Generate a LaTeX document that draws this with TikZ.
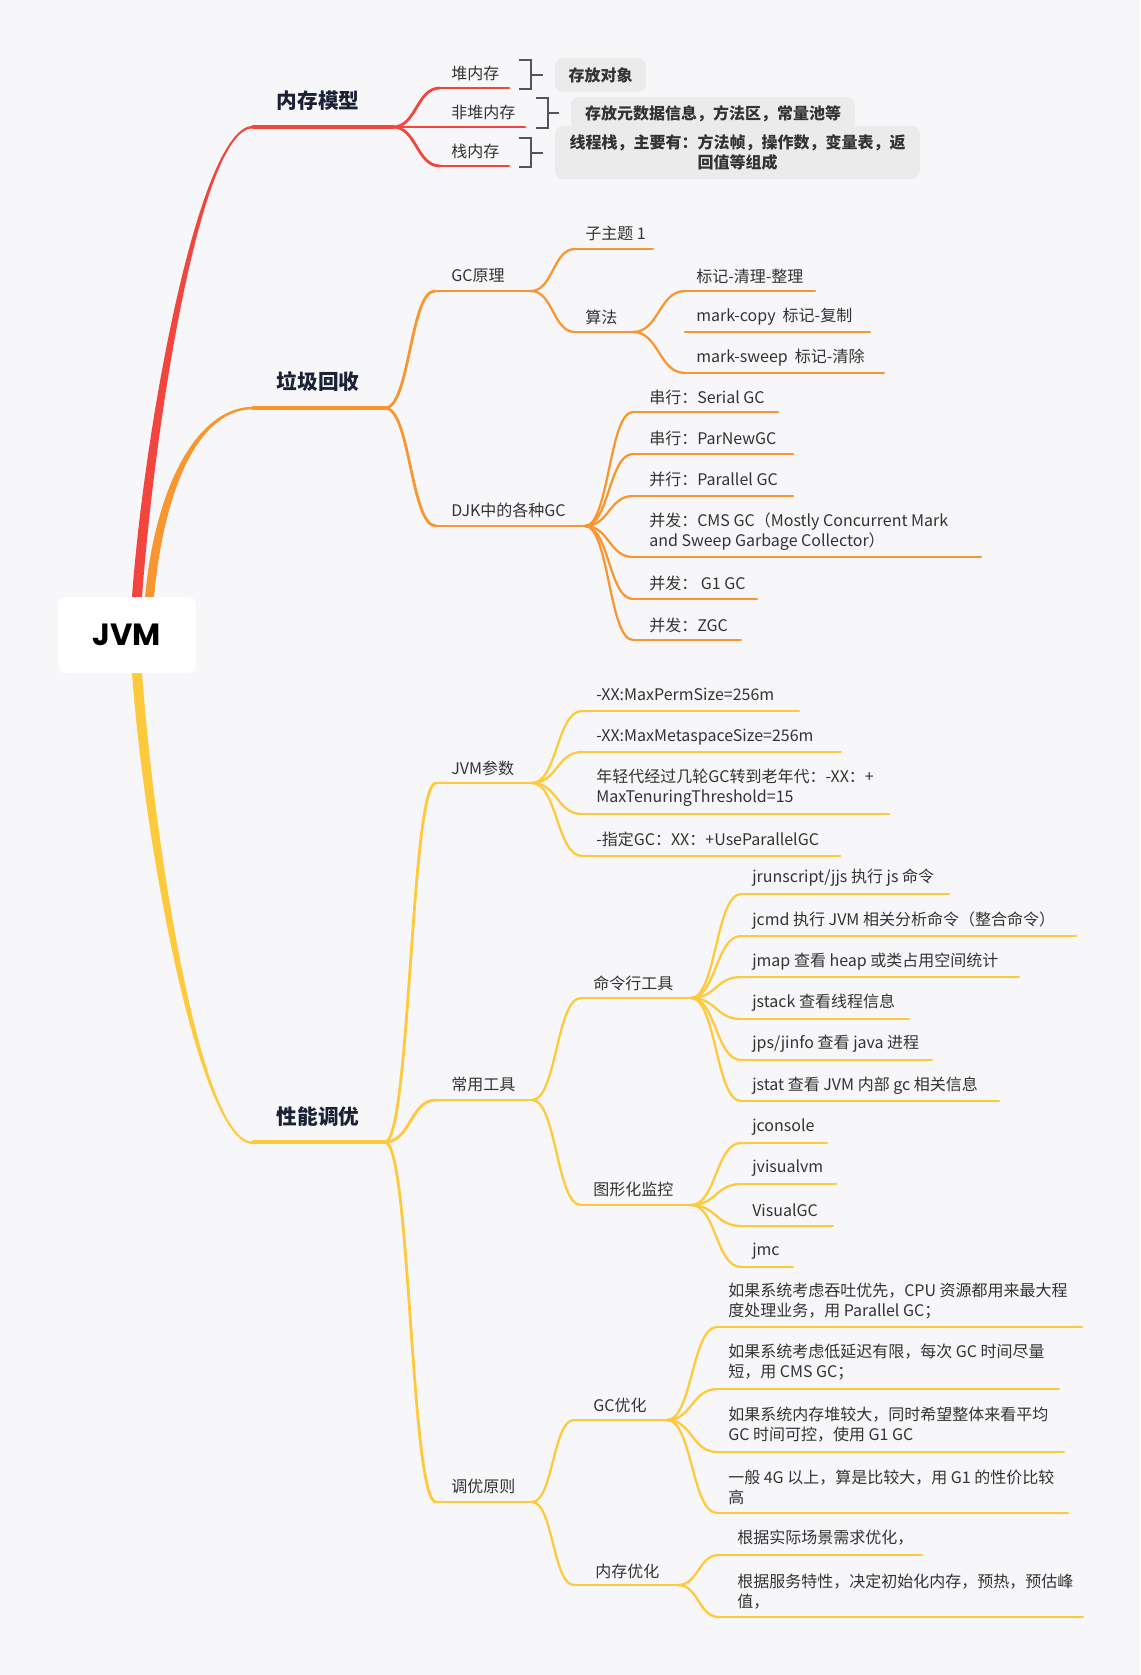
\documentclass[tikz,border=0pt]{standalone}
\usepackage{fontspec}
\setmainfont{Noto Sans CJK SC}
\newfontfamily\jvmfont{Poppins}
\usetikzlibrary{calc}

\definecolor{memred}{HTML}{F2453D}
\definecolor{gcorange}{HTML}{F8962F}
\definecolor{tuneyellow}{HTML}{FEC93A}
\definecolor{paper}{HTML}{F7F7F9}
\definecolor{notegray}{HTML}{EBEBEB}
\definecolor{ink}{HTML}{333333}
\definecolor{headink}{HTML}{1B2236}
\definecolor{brk}{HTML}{555555}

% one underlined topic: name, x start, x end, y, line style
\newcommand\twig[5]{%
  \coordinate (#1-s) at (#2,#4);
  \coordinate (#1-e) at (#3,#4);
  \draw[#5] (#1-s) -- (#1-e);}

\tikzset{
  link/.style={to path={let \p1=(\tikztostart), \p2=(\tikztotarget) in
    .. controls (0.5*\x1+0.5*\x2,\y1) and (0.5*\x1+0.5*\x2,\y2) .. (\tikztotarget)}},
  lab/.style={anchor=west, inner sep=0, text=ink, align=left,
    font=\fontsize{12}{15}\selectfont},
  head/.style={inner sep=0, text=headink, font=\fontsize{15.5}{19}\selectfont\bfseries},
  note/.style={fill=notegray, rounded corners=6pt, inner sep=0, text=ink,
    align=center, font=\fontsize{12}{14.5}\selectfont\bfseries},
  brace/.style={draw=brk, line width=1.5pt},
  top/.style={line width=2.4pt, line cap=round},
  mid/.style={line width=2.1pt, line cap=round},
  leaf/.style={line width=1.7pt, line cap=round}
}

\begin{document}
\begin{tikzpicture}[x=0.75pt,y=-0.75pt]
\useasboundingbox (0,0) rectangle (1140,1675);
\fill[paper] (0,0) rectangle (1140,1675);

% main branches from the root
\fill[memred] (132,597) .. controls (145,420) and (200,125.8) .. (253,125.8)
  -- (253,128.2) .. controls (201,128.2) and (155,420) .. (142,597) -- cycle;
\fill[gcorange] (145,597) .. controls (156,480) and (200,406.8) .. (253,406.8)
  -- (253,409.2) .. controls (202,409.2) and (165,480) .. (154,597) -- cycle;
\fill[tuneyellow] (132,673) .. controls (145,850) and (200,1144.2) .. (253,1144.2)
  -- (253,1141.8) .. controls (201,1141.8) and (155,850) .. (142,673) -- cycle;

\node[fill=white, rounded corners=6pt, minimum width=103.5pt, minimum height=57pt,
  font=\jvmfont\fontsize{23}{28}\selectfont\bfseries] (jvm) at (127,635) {JVM};

% 内存模型
\twig{mem}{253}{393}{127}{top,memred}
\node[head] (memlab) at (318,101) {内存模型};
\twig{heap}{440}{509}{88}{mid,memred}
\twig{nonheap}{393}{525}{127}{mid,memred}
\twig{stack}{440}{509}{166}{mid,memred}
\draw[mid,memred] (mem-e) to[link] (heap-s);
\draw[mid,memred] (mem-e) to[link] (stack-s);
\node[lab] (heaplab) at (451,73) {堆内存};
\node[lab] (nonheaplab) at (451,112) {非堆内存};
\node[lab] (stacklab) at (451,151) {栈内存};

\draw[brace] (519,60) -- (531,60) -- (531,89) -- (519,89);
\draw[brace] (531,74.5) -- (543,74.5);
\draw[brace] (536,98) -- (548,98) -- (548,128) -- (536,128);
\draw[brace] (548,113) -- (559,113);
\draw[brace] (519,138) -- (531,138) -- (531,167) -- (519,167);
\draw[brace] (531,152.5) -- (543,152.5);
\node[note, minimum width=68.3pt, minimum height=25.5pt] (heapnote) at (600.5,75) {存放对象};
\node[note, minimum width=213pt, minimum height=24.8pt] (nonheapnote) at (713,113.5) {存放元数据信息，方法区，常量池等};
\node[note, minimum width=273.8pt, minimum height=39.8pt] (stacknote) at (737.5,152.5)
  {线程栈，主要有：方法帧，操作数，变量表，返\\回值等组成};

% 垃圾回收
\twig{gc}{253}{385}{408}{top,gcorange}
\node[head] (gclab) at (318,382) {垃圾回收};
\twig{gcp}{435}{531}{291}{mid,gcorange}
\twig{djk}{436}{585}{526}{mid,gcorange}
\draw[mid,gcorange] (gc-e) to[link] (gcp-s);
\draw[mid,gcorange] (gc-e) to[link] (djk-s);
\node[lab] (gcplab) at (451,276) {GC原理};
\node[lab] (djklab) at (451,510) {DJK中的各种GC};

\twig{sub1}{575}{653}{249}{leaf,gcorange}
\twig{algo}{575}{633}{332}{leaf,gcorange}
\draw[leaf,gcorange] (gcp-e) to[link] (sub1-s);
\draw[leaf,gcorange] (gcp-e) to[link] (algo-s);
\node[lab] (sub1lab) at (585,233) {子主题 1};
\node[lab] (algolab) at (585,317) {算法};

\twig{mcc}{685}{815}{291}{leaf,gcorange}
\twig{mcopy}{685}{870}{332}{leaf,gcorange}
\twig{msweep}{685}{884}{373}{leaf,gcorange}
\draw[leaf,gcorange] (algo-e) to[link] (mcc-s);
\draw[leaf,gcorange] (algo-e) to[link] (msweep-s);
\node[lab] (mcclab) at (696,276) {标记-清理-整理};
\node[lab] (mcopylab) at (696,317) {mark-copy\ \ 标记-复制};
\node[lab] (msweeplab) at (696,358) {mark-sweep\ \ 标记-清除};

\twig{serial}{633}{778}{412}{leaf,gcorange}
\twig{parnew}{633}{793}{454}{leaf,gcorange}
\twig{parallel}{633}{793}{496}{leaf,gcorange}
\twig{cms}{633}{981}{557}{leaf,gcorange}
\twig{gone}{633}{757}{599}{leaf,gcorange}
\twig{zgc}{633}{741}{640}{leaf,gcorange}
\foreach \kid in {serial,parnew,parallel,cms,gone,zgc}
  \draw[leaf,gcorange] (djk-e) to[link] (\kid-s);
\node[lab] (seriallab) at (649,397) {串行：Serial GC};
\node[lab] (parnewlab) at (649,438) {串行：ParNewGC};
\node[lab] (parallellab) at (649,479) {并行：Parallel GC};
\node[lab] (cmslab) at (649,532) {并发：CMS GC（Mostly Concurrent Mark\\and Sweep Garbage Collector）};
\node[lab] (gonelab) at (649,583) {并发：\ G1 GC};
\node[lab] (zgclab) at (649,625) {并发：ZGC};

% 性能调优
\twig{tune}{253}{385}{1142}{top,tuneyellow}
\node[head] (tunelab) at (318,1117) {性能调优};
\twig{jvmp}{436}{532}{783}{mid,tuneyellow}
\twig{tools}{436}{532}{1100}{mid,tuneyellow}
\twig{rule}{436}{532}{1502}{mid,tuneyellow}
\foreach \kid in {jvmp,tools,rule}
  \draw[mid,tuneyellow] (tune-e) to[link] (\kid-s);
\node[lab] (jvmplab) at (451,768) {JVM参数};
\node[lab] (toolslab) at (451,1084) {常用工具};
\node[lab] (rulelab) at (451,1486) {调优原则};

\twig{perm}{582}{799}{711}{leaf,tuneyellow}
\twig{meta}{582}{841}{752}{leaf,tuneyellow}
\twig{tenure}{582}{889}{814}{leaf,tuneyellow}
\twig{usepar}{582}{840}{856}{leaf,tuneyellow}
\foreach \kid in {perm,meta,tenure,usepar}
  \draw[leaf,tuneyellow] (jvmp-e) to[link] (\kid-s);
\node[lab] (permlab) at (596,694) {-XX:MaxPermSize=256m};
\node[lab] (metalab) at (596,737) {-XX:MaxMetaspaceSize=256m};
\node[lab] (tenurelab) at (596,787.5) {年轻代经过几轮GC转到老年代：-XX：+\\MaxTenuringThreshold=15};
\node[lab] (useparlab) at (596,839) {-指定GC：XX：+UseParallelGC};

\twig{cli}{581}{691}{998}{leaf,tuneyellow}
\twig{gui}{581}{691}{1205}{leaf,tuneyellow}
\draw[leaf,tuneyellow] (tools-e) to[link] (cli-s);
\draw[leaf,tuneyellow] (tools-e) to[link] (gui-s);
\node[lab] (clilab) at (593,983) {命令行工具};
\node[lab] (guilab) at (593,1189) {图形化监控};

\twig{jrun}{741}{949}{894}{leaf,tuneyellow}
\twig{jcmd}{741}{1076}{936}{leaf,tuneyellow}
\twig{jmap}{741}{1019}{977}{leaf,tuneyellow}
\twig{jstack}{741}{909}{1019}{leaf,tuneyellow}
\twig{jps}{741}{932}{1060}{leaf,tuneyellow}
\twig{jstat}{741}{999}{1101}{leaf,tuneyellow}
\foreach \kid in {jrun,jcmd,jmap,jstack,jps,jstat}
  \draw[leaf,tuneyellow] (cli-e) to[link] (\kid-s);
\node[lab] (jrunlab) at (752,878) {jrunscript/jjs 执行 js 命令};
\node[lab] (jcmdlab) at (752,921) {jcmd 执行 JVM 相关分析命令（整合命令）};
\node[lab] (jmaplab) at (752,962) {jmap 查看 heap 或类占用空间统计};
\node[lab] (jstacklab) at (752,1003) {jstack 查看线程信息};
\node[lab] (jpslab) at (752,1044) {jps/jinfo 查看 java 进程};
\node[lab] (jstatlab) at (752,1086) {jstat 查看 JVM 内部 gc 相关信息};

\twig{jconsole}{741}{827}{1143}{leaf,tuneyellow}
\twig{jvisualvm}{741}{836}{1184}{leaf,tuneyellow}
\twig{visualgc}{741}{833}{1226}{leaf,tuneyellow}
\twig{jmc}{741}{793}{1267}{leaf,tuneyellow}
\foreach \kid in {jconsole,jvisualvm,visualgc,jmc}
  \draw[leaf,tuneyellow] (gui-e) to[link] (\kid-s);
\node[lab] (jconsolelab) at (752,1127) {jconsole};
\node[lab] (jvisualvmlab) at (752,1168) {jvisualvm};
\node[lab] (visualgclab) at (752,1210) {VisualGC};
\node[lab] (jmclab) at (752,1251) {jmc};

\twig{gcopt}{574}{667}{1420}{leaf,tuneyellow}
\twig{memopt}{574}{678}{1585}{leaf,tuneyellow}
\draw[leaf,tuneyellow] (rule-e) to[link] (gcopt-s);
\draw[leaf,tuneyellow] (rule-e) to[link] (memopt-s);
\node[lab] (gcoptlab) at (593,1405) {GC优化};
\node[lab] (memoptlab) at (595,1571) {内存优化};

\twig{opt1}{717}{1082}{1327}{leaf,tuneyellow}
\twig{opt2}{717}{1059}{1389}{leaf,tuneyellow}
\twig{opt3}{717}{1064}{1452}{leaf,tuneyellow}
\twig{opt4}{717}{1068}{1513}{leaf,tuneyellow}
\foreach \kid in {opt1,opt2,opt3,opt4}
  \draw[leaf,tuneyellow] (gcopt-e) to[link] (\kid-s);
\node[lab] (opt1lab) at (728,1301.5) {如果系统考虑吞吐优先，CPU 资源都用来最大程\\度处理业务，用 Parallel GC；};
\node[lab] (opt2lab) at (728,1362.5) {如果系统考虑低延迟有限，每次 GC 时间尽量\\短，用 CMS GC；};
\node[lab] (opt3lab) at (728,1425) {如果系统内存堆较大，同时希望整体来看平均\\GC 时间可控，使用 G1 GC};
\node[lab] (opt4lab) at (728,1487) {一般 4G 以上，算是比较大，用 G1 的性价比较\\高};

\twig{mopt1}{719}{922}{1555}{leaf,tuneyellow}
\twig{mopt2}{719}{1083}{1617}{leaf,tuneyellow}
\draw[leaf,tuneyellow] (memopt-e) to[link] (mopt1-s);
\draw[leaf,tuneyellow] (memopt-e) to[link] (mopt2-s);
\node[lab] (mopt1lab) at (737,1538) {根据实际场景需求优化，};
\node[lab] (mopt2lab) at (737,1591.5) {根据服务特性，决定初始化内存，预热，预估峰\\值，};
\end{tikzpicture}
\end{document}
